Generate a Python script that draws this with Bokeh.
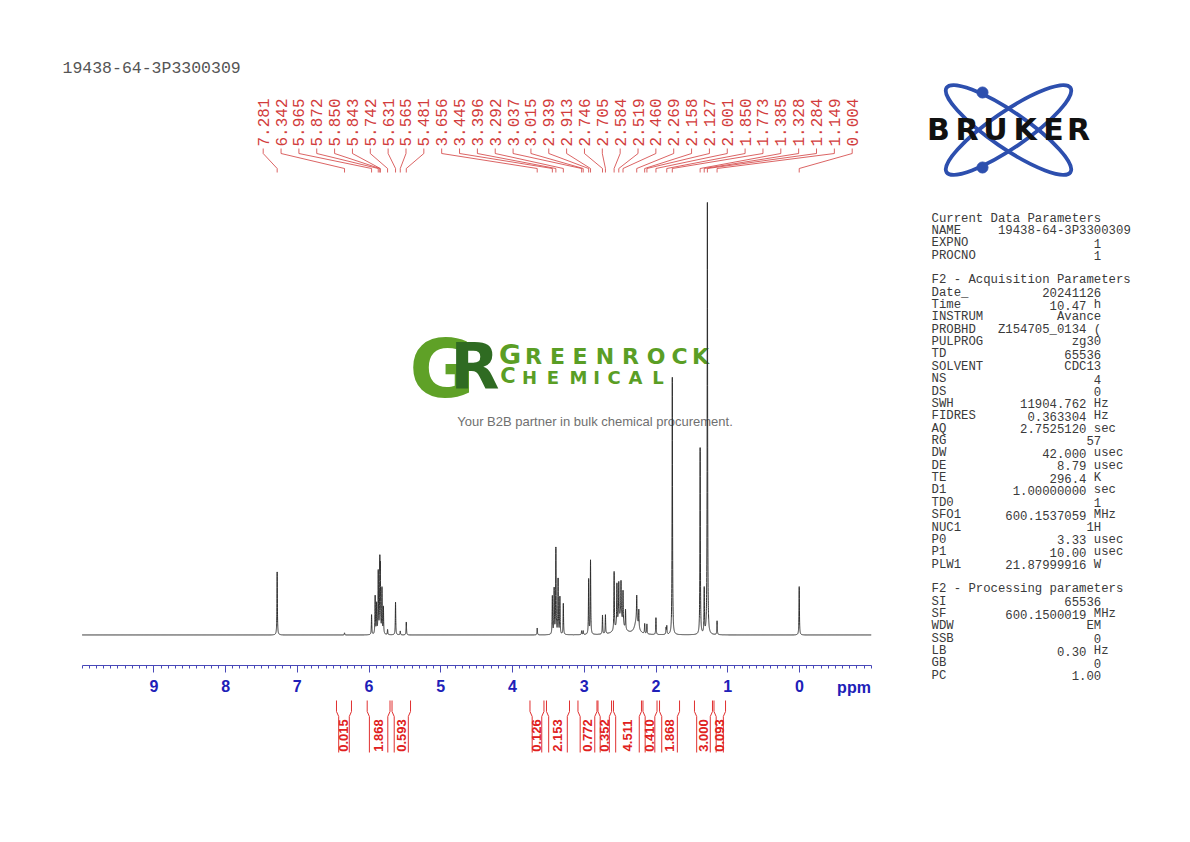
import numpy as np
from bokeh.plotting import figure
from bokeh.models import Range1d, LinearAxis, FixedTicker
from bokeh.core.properties import value
from bokeh.embed import file_html
from bokeh.resources import INLINE

# ---- spectrum lines ----
# shift (ppm), height (% of the tallest line), half width (ppm)
shifts = [7.281, 6.342, 5.965, 5.915, 5.895, 5.872, 5.850, 5.843, 5.820, 5.800,
          5.742, 5.631, 5.565, 5.481,
          3.656, 3.445, 3.420, 3.396, 3.365, 3.340, 3.292, 3.037, 3.015,
          2.939, 2.913, 2.746, 2.705,
          2.584, 2.545, 2.519, 2.488, 2.460, 2.425, 2.500,
          2.269, 2.270, 2.240, 2.158, 2.127, 2.001, 1.860, 1.850,
          1.773, 1.385, 1.328, 1.284, 1.149, 0.004]
heights = [14.6, 0.5, 4.6, 8.8, 6.9, 14.3, 15.3, 13.4, 10.4, 6.2,
           1.2, 7.6, 0.9, 3.0,
           1.6, 8.8, 10.4, 19.9, 12.7, 8.6, 7.2, 0.9, 0.9,
           12.7, 17.1, 4.4, 4.4,
           13.5, 9.5, 8.5, 8.5, 7.6, 4.5, 4.0,
           5.5, 3.5, 4.0, 2.3, 2.3, 3.9, 1.5, 1.9,
           59.6, 43.2, 10.4, 100.0, 3.2, 11.2]
widths = [0.0035] * len(shifts)
widths[shifts.index(2.500)] = 0.05
widths[shifts.index(2.270)] = 0.03

# picked peaks printed above the spectrum
peak_labels = ["7.281", "6.342", "5.965", "5.872", "5.850", "5.843", "5.742", "5.631",
               "5.565", "5.481", "3.656", "3.445", "3.396", "3.292", "3.037", "3.015",
               "2.939", "2.913", "2.746", "2.705", "2.584", "2.519", "2.460", "2.269",
               "2.158", "2.127", "2.001", "1.850", "1.773", "1.385", "1.328", "1.284",
               "1.149", "0.004"]

# integral regions (ppm) and their values
int_from = [6.454, 6.026, 5.680, 3.757, 3.527, 3.088, 2.809, 2.593, 2.182, 1.951, 1.464, 1.192]
int_to = [6.245, 5.708, 5.422, 3.562, 3.206, 2.823, 2.620, 2.203, 1.986, 1.672, 1.213, 1.031]
int_vals = ["0.015", "1.868", "0.593", "0.126", "2.153", "0.772", "0.352", "4.511",
            "0.410", "1.868", "3.000", "0.093"]

ppm_ticks = [9, 8, 7, 6, 5, 4, 3, 2, 1, 0]

# acquisition / processing parameter table
param_keys = ["Current Data Parameters", "NAME", "EXPNO", "PROCNO", "",
              "F2 - Acquisition Parameters", "Date_", "Time", "INSTRUM", "PROBHD",
              "PULPROG", "TD", "SOLVENT", "NS", "DS", "SWH", "FIDRES", "AQ", "RG",
              "DW", "DE", "TE", "D1", "TD0", "SFO1", "NUC1", "P0", "P1", "PLW1", "",
              "F2 - Processing parameters", "SI", "SF", "WDW", "SSB", "LB", "GB", "PC"]
param_vals = ["", "19438-64-3P3300309", "1", "1", "",
              "", "20241126", "10.47", "Avance", "Z154705_0134 (",
              "zg30", "65536", "CDC13", "4", "0", "11904.762", "0.363304", "2.7525120", "57",
              "42.000", "8.79", "296.4", "1.00000000", "1", "600.1537059", "1H", "3.33",
              "10.00", "21.87999916", "",
              "", "65536", "600.1500019", "EM", "0", "0.30", "0", "1.00"]
param_units = ["", "", "", "", "",
               "", "", "h", "", "",
               "", "", "", "", "", "Hz", "Hz", "sec", "",
               "usec", "usec", "K", "sec", "", "MHz", "", "usec", "usec", "W", "",
               "", "", "MHz", "", "", "Hz", "", ""]

sample_name = "19438-64-3P3300309"

# ---- page geometry ----
W, H = 1174, 826
X10 = 81.6          # page x of 10 ppm
PX_PPM = 71.74      # pixels per ppm
BASE_Y, TOP_Y = 634.5, 202.5   # page y of zero and of 100 %


def ppm_at(px):
    return 10 - (np.asarray(px, dtype=float) - X10) / PX_PPM


RED = "#d23c3c"
BLUE = "#2020b8"

p = figure(width=W, height=H, output_backend="svg", toolbar_location=None,
           x_range=Range1d(float(ppm_at(0)), float(ppm_at(W))),
           y_range=Range1d(H, 0),
           x_axis_location=None, y_axis_location=None, min_border=0,
           outline_line_color=None, background_fill_color="white",
           border_fill_color="white")
p.xgrid.grid_line_color = None
p.ygrid.grid_line_color = None
p.extra_x_ranges = {"px": Range1d(0, W)}
k = (BASE_Y - TOP_Y) / 100.0
p.extra_y_ranges = {"int": Range1d((BASE_Y - H) / k, BASE_Y / k)}

# ---- watermark ----
p.text(x=[441.5], y=[369], text=["G"], x_range_name="px", text_font=value("DejaVu Sans"),
       text_font_style="bold", text_font_size="80px", text_color="#5fa127",
       text_align="center", text_baseline="middle")
p.text(x=[474.5], y=[366.5], text=["R"], x_range_name="px", text_font=value("DejaVu Sans"),
       text_font_style="bold", text_font_size="64px", text_color="#2f6b22",
       text_align="center", text_baseline="middle")
top_word = list("GREENROCK")
top_x = [509.5, 533, 557, 579.5, 604.5, 630, 655.5, 679, 700]
top_y = [354] + [355.5] * 8
top_size = ["27px"] + ["22px"] * 8
bot_word = list("CHEMICAL")
bot_x = [507.5, 529, 552.5, 578, 596, 613.5, 635, 657.5]
bot_y = [375.5] + [377] * 7
bot_size = ["21px"] + ["18px"] * 7
p.text(x=top_x, y=top_y, text=top_word, x_range_name="px",
       text_font=value("DejaVu Sans"), text_font_style="bold", text_font_size=top_size,
       text_color="#5a9e25", text_align="center", text_baseline="middle")
p.text(x=bot_x, y=bot_y, text=bot_word, x_range_name="px",
       text_font=value("DejaVu Sans"), text_font_style="bold", text_font_size=bot_size,
       text_color="#5a9e25", text_align="center", text_baseline="middle")
p.text(x=[594.5], y=[421], text=["Your B2B partner in bulk chemical procurement."],
       x_range_name="px", text_font=value("Liberation Sans"), text_font_size="13px",
       text_color="#707070", text_align="center", text_baseline="middle")

# ---- spectrum ----
grid = np.union1d(np.linspace(-1, 10, 22001), shifts)
spec = np.zeros_like(grid)
for s, h, w in zip(shifts, heights, widths):
    spec += h / (1 + ((grid - s) / w) ** 2)
p.line(grid, spec, y_range_name="int", line_color="#2e2e2e", line_width=1)

# ---- peak labels with connectors ----
n = len(peak_labels)
slots = ppm_at(np.linspace(262.7, 851.7, n))
p.text(x=list(slots), y=[146] * n, text=peak_labels, angle=np.pi / 2,
       text_font=value("Liberation Mono"), text_font_size="16px", text_color=RED,
       text_align="left", text_baseline="middle")
pk = [float(t) for t in peak_labels]
p.multi_line(xs=[[sl, sl, q, q] for sl, q in zip(slots, pk)],
             ys=[[148, 153, 168, 172]] * n, line_color=RED, line_width=0.8)

# ---- integrals ----
d = 2.2 / PX_PPM
xs, ys = [], []
for a, b in zip(int_from, int_to):
    xs += [[a, a, a - d, a - d], [b, b, b + d, b + d]]
    ys += [[700, 711, 716, 752], [700, 711, 716, 752]]
p.multi_line(xs=xs, ys=ys, line_color="#e03030", line_width=1)
p.text(x=[(a + b) / 2 for a, b in zip(int_from, int_to)], y=[735] * len(int_vals),
       text=int_vals, angle=np.pi / 2, text_font=value("Liberation Sans"),
       text_font_style="bold", text_font_size="13px", text_color="#e02020",
       text_align="center", text_baseline="middle")

# ---- ppm axis ----
minor = [round(-1 + 0.1 * i, 1) for i in range(111)]
ax = LinearAxis(fixed_location=665, bounds=(-1, 10),
                ticker=FixedTicker(ticks=ppm_ticks, minor_ticks=minor))
ax.axis_line_color = "#4848b8"
ax.major_tick_line_color = "#4848b8"
ax.minor_tick_line_color = "#4848b8"
ax.major_tick_in = 0
ax.major_tick_out = 7
ax.minor_tick_in = 0
ax.minor_tick_out = 3
ax.major_label_standoff = 7
ax.major_label_text_font = "Liberation Sans"
ax.major_label_text_font_style = "bold"
ax.major_label_text_font_size = "16px"
ax.major_label_text_color = BLUE
p.add_layout(ax, "below")
p.text(x=[853.5], y=[686.5], text=["ppm"], x_range_name="px",
       text_font=value("Liberation Sans"), text_font_style="bold", text_font_size="16px",
       text_color=BLUE, text_align="center", text_baseline="middle")

# ---- sample name ----
p.text(x=[62], y=[68], text=[sample_name], x_range_name="px",
       text_font=value("Liberation Mono"), text_font_size="16.5px", text_color="#555555",
       text_align="left", text_baseline="middle")

# ---- parameter table ----
cw, col0, row0, dy = 7.38, 931, 218, 12.36
kx, ky, kt = [], [], []
vx, vy, vt = [], [], []
ux, uy, ut = [], [], []
for i, (key, val, unit) in enumerate(zip(param_keys, param_vals, param_units)):
    y = row0 + i * dy
    if key:
        kx.append(col0); ky.append(y); kt.append(key)
    if val:
        end = 21 if unit else max(23, 9 + len(val))
        vx.append(col0 + end * cw); vy.append(y); vt.append(val)
    if unit:
        ux.append(col0 + 22 * cw); uy.append(y); ut.append(unit)
for xx, yy, tt, al in [(kx, ky, kt, "left"), (vx, vy, vt, "right"), (ux, uy, ut, "left")]:
    p.text(x=xx, y=yy, text=tt, x_range_name="px", text_font=value("Liberation Mono"),
           text_font_size="12.3px", text_color="#3a3a3a", text_align=al,
           text_baseline="middle")

# ---- Bruker logo ----
p.ellipse(x=[1008, 1008], y=[129.5, 129.5], width=[150, 150], height=[36, 36],
          angle=[0.6, -0.6], x_range_name="px", fill_color=None,
          line_color="#2d4fae", line_width=3.8)
p.scatter(x=[982, 982], y=[92, 167], size=11, x_range_name="px",
          fill_color="#2d4fae", line_color="#2d4fae")
p.text(x=[938, 966.5, 995, 1024.5, 1053, 1078], y=[129] * 6, text=list("BRUKER"),
       x_range_name="px", text_font=value("DejaVu Sans"), text_font_style="bold",
       text_font_size="30px", text_color="#111111", text_align="center",
       text_baseline="middle")

open("out.html", "w").write(file_html(p, INLINE))
